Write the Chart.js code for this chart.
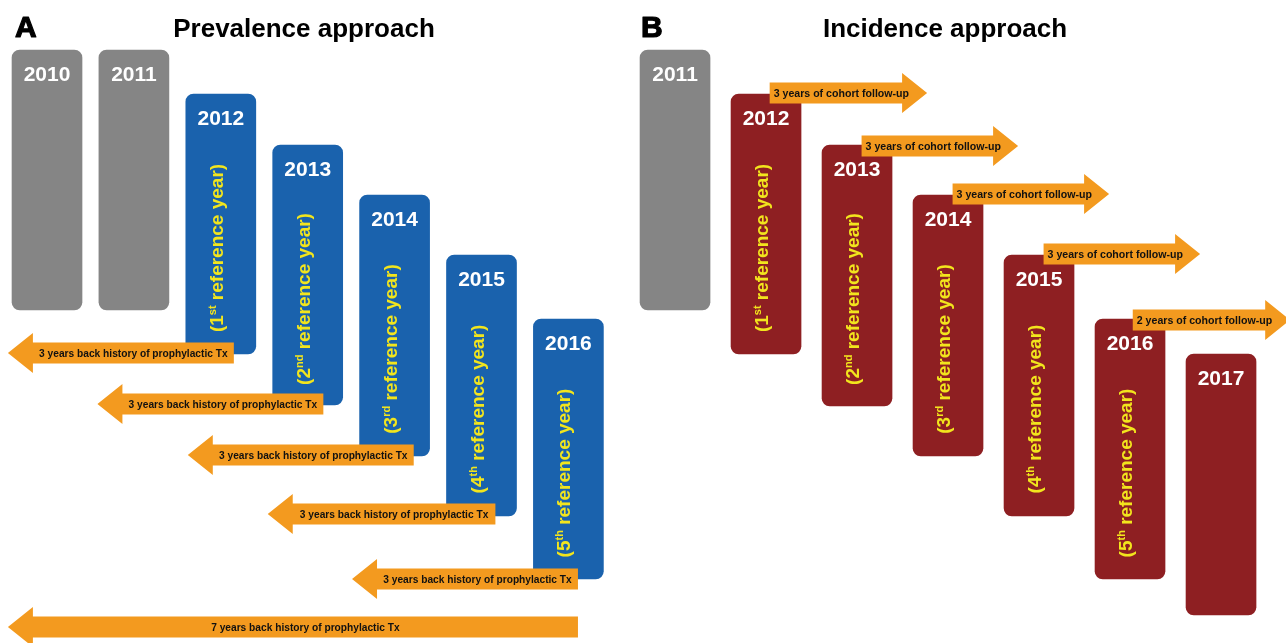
<!DOCTYPE html>
<html>
<head>
<meta charset="utf-8">
<title>Prevalence and incidence approach</title>
<script src="https://cdn.jsdelivr.net/npm/chart.js@4.4.1/dist/chart.umd.min.js"></script>
<style>
  html, body { margin: 0; padding: 0; background: #fff; }
  canvas { display: block; }
</style>
</head>
<body>
<canvas id="timeline" width="1286" height="643"></canvas>
<script>
// Panel A - prevalence approach
const prevYears = [2010, 2011, 2012, 2013, 2014, 2015, 2016];
const prevStart = [50, 50, 94, 145, 195, 255, 319];
const prevEnd = [310, 310, 354, 405, 456, 516, 579];
const prevRefYear = [0, 0, 1, 2, 3, 4, 5]; // 0 = not a reference year

const historyTail = [2012.15, 2013.18, 2014.22, 2015.16, 2016.11, 2016.11];
const historyTip = [2009.55, 2010.58, 2011.62, 2012.54, 2013.51, 2009.55];
const historyRow = [353, 404, 455, 514, 579, 627];
const historyLabels = [
    '3 years back history of prophylactic Tx',
    '3 years back history of prophylactic Tx',
    '3 years back history of prophylactic Tx',
    '3 years back history of prophylactic Tx',
    '3 years back history of prophylactic Tx',
    '7 years back history of prophylactic Tx'
];

// Panel B - incidence approach
const incYears = [2011, 2012, 2013, 2014, 2015, 2016, 2017];
const incStart = [50, 94, 145, 195, 255, 319, 354];
const incEnd = [310, 354, 406, 456, 516, 579, 615];
const incRefYear = [0, 1, 2, 3, 4, 5, 0];

const followTail = [2012.04, 2013.05, 2014.05, 2015.05, 2016.03];
const followTip = [2013.77, 2014.77, 2015.77, 2016.77, 2017.76];
const followRow = [93, 146, 194, 254, 320];
const followLabels = [
    '3 years of cohort follow-up',
    '3 years of cohort follow-up',
    '3 years of cohort follow-up',
    '3 years of cohort follow-up',
    '2 years of cohort follow-up'
];

const COLORS = {
    gray: '#858585',
    blue: '#1a62ad',
    red: '#8e1f22',
    orange: '#f39a1f',
    yellow: '#f2e51d'
};
const FONT = 'Arial, "Liberation Sans", Helvetica, sans-serif';
const SUFFIX = ['', 'st', 'nd', 'rd', 'th', 'th'];

function toPoints(years, start, end) {
    return years.map((yr, i) => ({ x: yr, y: [start[i], end[i]] }));
}

function drawArrow(ctx, xTail, xTip, y) {
    const dir = xTip > xTail ? 1 : -1;
    const headLen = 25, headHalf = 20, bodyHalf = 10.5;
    const base = xTip - dir * headLen;
    ctx.beginPath();
    ctx.moveTo(xTail, y - bodyHalf);
    ctx.lineTo(base, y - bodyHalf);
    ctx.lineTo(base, y - headHalf);
    ctx.lineTo(xTip, y);
    ctx.lineTo(base, y + headHalf);
    ctx.lineTo(base, y + bodyHalf);
    ctx.lineTo(xTail, y + bodyHalf);
    ctx.closePath();
    ctx.fill();
    return base;
}

// rotated "(1st reference year)" with a superscript suffix
function drawRefLabel(ctx, x, y, n) {
    const big = 'bold 19px ' + FONT;
    const small = 'bold 11px ' + FONT;
    const parts = [
        { t: '(' + n, f: big, dy: 0 },
        { t: SUFFIX[n], f: small, dy: -7 },
        { t: ' reference year)', f: big, dy: 0 }
    ];
    ctx.save();
    ctx.translate(x, y);
    ctx.rotate(-Math.PI / 2);
    let total = 0;
    parts.forEach(p => { ctx.font = p.f; p.w = ctx.measureText(p.t).width; total += p.w; });
    let cx = -total / 2;
    ctx.fillStyle = COLORS.yellow;
    ctx.textAlign = 'left';
    ctx.textBaseline = 'alphabetic';
    parts.forEach(p => {
        ctx.font = p.f;
        ctx.fillText(p.t, cx, 7 + p.dy);
        cx += p.w;
    });
    ctx.restore();
}

const labelPlugin = {
    id: 'diagramLabels',
    afterDatasetsDraw(chart) {
        const ctx = chart.ctx;
        const yScale = chart.scales.y;
        const xa = chart.scales.xa;
        const xb = chart.scales.xb;

        // year and reference-year labels on the bars
        [prevRefYear, incRefYear].forEach((refs, d) => {
            const meta = chart.getDatasetMeta(d);
            const years = d === 0 ? prevYears : incYears;
            meta.data.forEach((bar, i) => {
                const top = Math.min(bar.y, bar.base);
                ctx.save();
                ctx.fillStyle = '#ffffff';
                ctx.font = 'bold 21px ' + FONT;
                ctx.textAlign = 'center';
                ctx.textBaseline = 'alphabetic';
                ctx.fillText(String(years[i]), bar.x, top + 31);
                ctx.restore();
                if (refs[i] > 0) drawRefLabel(ctx, bar.x - 5, top + 154, refs[i]);
            });
        });

        // back-history arrows (panel A)
        ctx.save();
        historyRow.forEach((row, i) => {
            const tail = xa.getPixelForValue(historyTail[i]);
            const tip = xa.getPixelForValue(historyTip[i]);
            const y = yScale.getPixelForValue(row);
            ctx.fillStyle = COLORS.orange;
            const base = drawArrow(ctx, tail, tip, y);
            ctx.fillStyle = '#111';
            ctx.font = 'bold 10.2px ' + FONT;
            ctx.textAlign = 'center';
            ctx.textBaseline = 'middle';
            ctx.fillText(historyLabels[i], (base + tail) / 2, y + 1);
        });

        // cohort follow-up arrows (panel B)
        followRow.forEach((row, i) => {
            const tail = xb.getPixelForValue(followTail[i]);
            const tip = xb.getPixelForValue(followTip[i]);
            const y = yScale.getPixelForValue(row);
            ctx.fillStyle = COLORS.orange;
            drawArrow(ctx, tail, tip, y);
            ctx.fillStyle = '#111';
            ctx.font = 'bold 10.6px ' + FONT;
            ctx.textAlign = 'left';
            ctx.textBaseline = 'middle';
            ctx.fillText(followLabels[i], tail + 4, y + 1);
        });
        ctx.restore();

        // panel letters and titles
        ctx.save();
        ctx.fillStyle = '#000';
        ctx.strokeStyle = '#000';
        ctx.lineWidth = 1.2;
        ctx.lineJoin = 'round';
        ctx.textBaseline = 'alphabetic';
        ctx.font = 'bold 30px ' + FONT;
        ctx.textAlign = 'left';
        ctx.fillText('A', 15, 37);
        ctx.strokeText('A', 15, 37);
        ctx.fillText('B', 641, 37);
        ctx.strokeText('B', 641, 37);
        ctx.font = 'bold 26px ' + FONT;
        ctx.textAlign = 'center';
        ctx.fillText('Prevalence approach', 304, 37);
        ctx.fillText('Incidence approach', 945, 37);
        ctx.restore();
    }
};

new Chart(document.getElementById('timeline'), {
    type: 'bar',
    data: {
        datasets: [
            {
                label: 'Prevalence approach',
                xAxisID: 'xa',
                data: toPoints(prevYears, prevStart, prevEnd),
                backgroundColor: prevRefYear.map(r => r > 0 ? COLORS.blue : COLORS.gray)
            },
            {
                label: 'Incidence approach',
                xAxisID: 'xb',
                data: toPoints(incYears, incStart, incEnd),
                backgroundColor: incYears.map((yr, i) => i === 0 ? COLORS.gray : COLORS.red)
            }
        ]
    },
    options: {
        responsive: false,
        animation: false,
        layout: { padding: 0 },
        // bars centred on their year, not grouped with the other panel
        grouped: false,
        categoryPercentage: 1,
        barPercentage: 1,
        maxBarThickness: 70,
        borderRadius: 8,
        borderSkipped: false,
        scales: {
            // year -> pixel: 2010 at 47px, 86.9 px per year
            xa: { type: 'linear', display: false, offset: false, min: 2009.459, max: 2024.258 },
            // year -> pixel: 2011 at 675px, 91 px per year
            xb: { type: 'linear', display: false, offset: false, min: 2003.582, max: 2017.714 },
            y: { type: 'linear', display: false, reverse: true, min: 0, max: 643 }
        },
        plugins: {
            legend: { display: false },
            tooltip: { enabled: false },
            title: { display: false }
        }
    },
    plugins: [labelPlugin]
});
</script>
</body>
</html>
